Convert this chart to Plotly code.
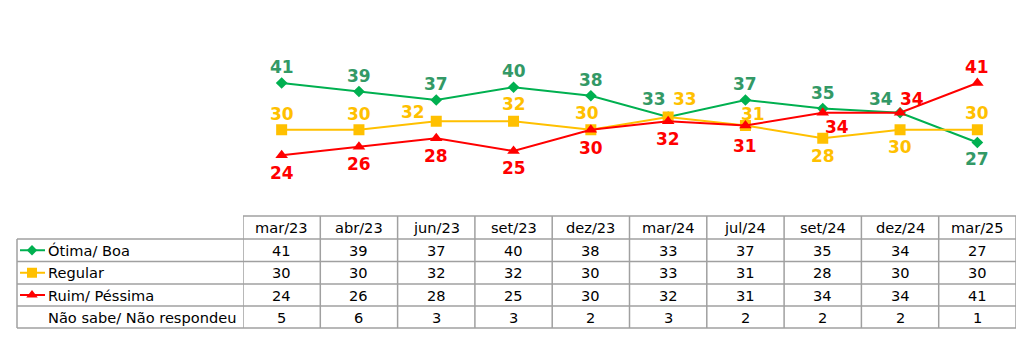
import plotly.graph_objects as go

categories = ["mar/23", "abr/23", "jun/23", "set/23", "dez/23", "mar/24", "jul/24", "set/24", "dez/24", "mar/25"]
otima_boa = [41, 39, 37, 40, 38, 33, 37, 35, 34, 27]
regular = [30, 30, 32, 32, 30, 33, 31, 28, 30, 30]
ruim_pessima = [24, 26, 28, 25, 30, 32, 31, 34, 34, 41]
nao_sabe = [5, 6, 3, 3, 2, 3, 2, 2, 2, 1]
row_labels = ["Ótima/ Boa", "Regular", "Ruim/ Péssima", "Não sabe/ Não respondeu"]

W, H = 1024, 364
GREEN, YELLOW, RED = "#00b050", "#ffc000", "#ff0000"
GREEN_TXT = "#339966"
FONT = "DejaVu Sans"
GRID = "#a0a0a0"

def py(px):
    return 1 - px / H

def pxx(px):
    return px / W

X0, X1 = 243, 1016  # chart/table data columns
TL = 17              # table left
row_lines = [216, 239, 261.5, 284, 306, 328]

# label offsets (xshift, yshift) per point
g_off = [(0, 16), (0, 16), (0, 16), (0, 16), (0, 16), (-14, 18), (0, 16), (0, 16), (-19, 14), (0, -16)]
y_off = [(0, 16), (0, 16), (-23, 9), (0, 17), (-4, 17), (17, 18), (8, 12), (0, -18), (0, -17), (0, 17)]
r_off = [(0, -18), (0, -17), (0, -18), (0, -17), (0, -18), (0, -18), (0, -20), (14, -14), (12, 14), (0, 16)]

fig = go.Figure()
series = [
    (otima_boa, GREEN, GREEN_TXT, "diamond", 9, g_off, row_labels[0]),
    (regular, YELLOW, YELLOW, "square", 11, y_off, row_labels[1]),
    (ruim_pessima, RED, RED, "triangle-up", 11, r_off, row_labels[2]),
]
annotations = []
for vals, col, tcol, sym, msz, offs, name in series:
    fig.add_trace(go.Scatter(
        x=categories, y=vals, mode="lines+markers", name=name,
        line=dict(color=col, width=2),
        marker=dict(symbol=sym, size=msz, color=col),
        showlegend=False, hoverinfo="skip",
    ))
    for c, v, (dx, dy) in zip(categories, vals, offs):
        annotations.append(dict(
            x=c, y=v, xref="x", yref="y", text=str(v), showarrow=False,
            xshift=dx, yshift=dy, xanchor="center", yanchor="middle",
            font=dict(family=FONT, size=17, color=tcol, weight="bold"),
        ))

# table text
TXT = dict(family=FONT, size=14.6, color="#000000")
hdr_y = (row_lines[0] + row_lines[1]) / 2
for c in categories:
    annotations.append(dict(x=c, y=py(hdr_y), xref="x", yref="paper", text=c,
                            xanchor="center", yanchor="middle", showarrow=False, font=TXT))
table_rows = [otima_boa, regular, ruim_pessima, nao_sabe]
for r, vals in enumerate(table_rows):
    cy = (row_lines[r + 1] + row_lines[r + 2]) / 2
    for c, v in zip(categories, vals):
        annotations.append(dict(x=c, y=py(cy), xref="x", yref="paper", text=str(v),
                                xanchor="center", yanchor="middle", showarrow=False, font=TXT))
    annotations.append(dict(x=pxx(46), y=py(cy), xref="paper", yref="paper",
                            text=row_labels[r], xanchor="left", yanchor="middle",
                            showarrow=False, font=TXT))

shapes = []
shapes.append(dict(type="line", xref="paper", yref="paper", x0=pxx(X0), x1=pxx(X1),
                   y0=py(row_lines[0]), y1=py(row_lines[0]), line=dict(color=GRID, width=1.5)))
for yl in row_lines[1:]:
    shapes.append(dict(type="line", xref="paper", yref="paper", x0=pxx(TL), x1=pxx(X1),
                       y0=py(yl), y1=py(yl), line=dict(color=GRID, width=1.5)))
shapes.append(dict(type="line", xref="paper", yref="paper", x0=pxx(TL), x1=pxx(TL),
                   y0=py(row_lines[1]), y1=py(row_lines[-1]), line=dict(color=GRID, width=1.5)))
for i in range(len(categories) + 1):
    shapes.append(dict(type="line", xref="x", yref="paper", x0=i - 0.5, x1=i - 0.5,
                       y0=py(row_lines[0]), y1=py(row_lines[-1]), line=dict(color=GRID, width=1.5)))

# legend keys inside table
for r, (col, sym, msz) in enumerate([(GREEN, "diamond", 8), (YELLOW, "square", 10), (RED, "triangle-up", 10)]):
    cy = (row_lines[r + 1] + row_lines[r + 2]) / 2
    shapes.append(dict(type="line", xref="paper", yref="paper", x0=pxx(20), x1=pxx(45),
                       y0=py(cy), y1=py(cy), line=dict(color=col, width=2)))
    fig.add_trace(go.Scatter(x=[32], y=[cy], xaxis="x2", yaxis="y2", mode="markers",
                             marker=dict(symbol=sym, size=msz, color=col),
                             showlegend=False, hoverinfo="skip"))

fig.update_layout(
    width=W, height=H, margin=dict(l=0, r=0, t=0, b=0),
    paper_bgcolor="white", plot_bgcolor="rgba(0,0,0,0)",
    xaxis=dict(domain=[pxx(X0), pxx(X1)], range=[-0.5, 9.5], visible=False, type="category",
               categoryorder="array", categoryarray=categories),
    yaxis=dict(domain=[py(172.25), py(44.75)], range=[20, 50], visible=False),
    xaxis2=dict(domain=[0, 1], range=[0, W], visible=False, anchor="y2"),
    yaxis2=dict(domain=[0, 1], range=[H, 0], visible=False, anchor="x2"),
    annotations=annotations, shapes=shapes,
)

fig.write_html("out.html", config={"displayModeBar": False},
               post_script="document.body.style.margin='0';document.body.style.overflow='hidden';")
